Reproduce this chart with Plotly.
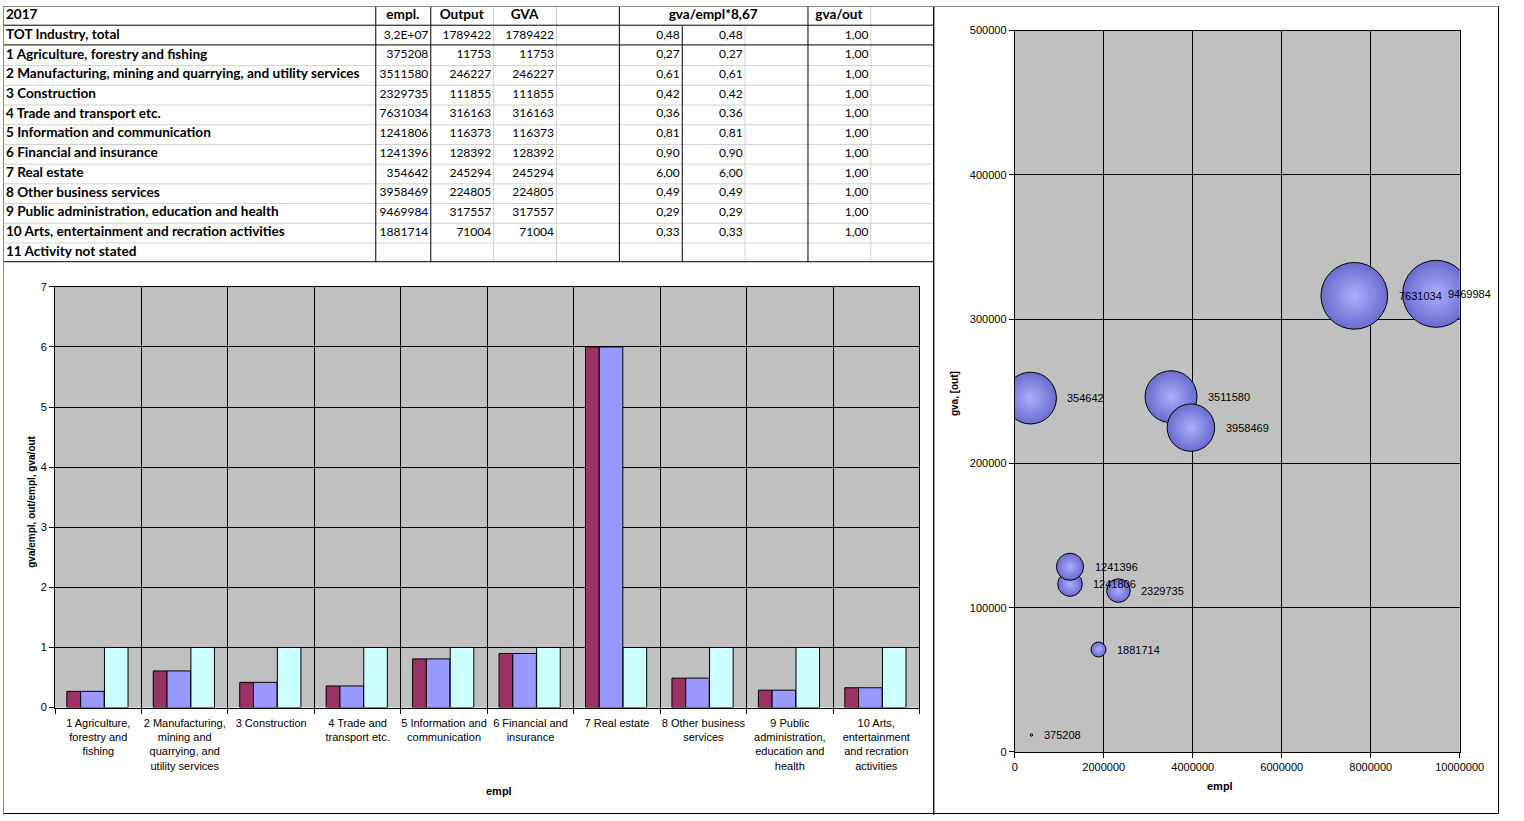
import plotly.graph_objects as go

# Tabelle / Daten 2017
row_names = ["TOT Industry, total",
             "1 Agriculture, forestry and fishing",
             "2 Manufacturing, mining and quarrying, and utility services",
             "3 Construction",
             "4 Trade and transport etc.",
             "5 Information and communication",
             "6 Financial and insurance",
             "7 Real estate",
             "8 Other business services",
             "9 Public administration, education and health",
             "10 Arts, entertainment and recration activities",
             "11 Activity not stated"]

empl = [3.2e7, 375208, 3511580, 2329735, 7631034, 1241806, 1241396, 354642, 3958469, 9469984, 1881714, None]
output = [1789422, 11753, 246227, 111855, 316163, 116373, 128392, 245294, 224805, 317557, 71004, None]
gva = [1789422, 11753, 246227, 111855, 316163, 116373, 128392, 245294, 224805, 317557, 71004, None]
gva_empl = [0.48, 0.27, 0.61, 0.42, 0.36, 0.81, 0.90, 6.00, 0.49, 0.29, 0.33, None]
gva_out = [1.00, 1.00, 1.00, 1.00, 1.00, 1.00, 1.00, 1.00, 1.00, 1.00, 1.00, None]

header = ["2017", "empl.", "Output", "GVA", "gva/empl*8,67", "gva/out"]

# Beschriftungen der Kategorien im Balkendiagramm
bar_labels = ["1 Agriculture,<br>forestry and<br>fishing",
              "2 Manufacturing,<br>mining and<br>quarrying, and<br>utility services",
              "3 Construction",
              "4 Trade and<br>transport etc.",
              "5 Information and<br>communication",
              "6 Financial and<br>insurance",
              "7 Real estate",
              "8 Other business<br>services",
              "9 Public<br>administration,<br>education and<br>health",
              "10 Arts,<br>entertainment<br>and recration<br>activities"]

W, H = 1524, 821
TAB_FONT = "Lato"
CHART_FONT = "Liberation Sans, Arial"


def fx(px):
    return px / W


def fy(py):
    return 1 - py / H


def fmt_int(v):
    if v is None:
        return ""
    s = str(int(round(v)))
    if len(s) > 7:
        s = ("%.1E" % v).replace(".", ",")
    return s


def fmt_dec(v):
    if v is None:
        return ""
    return ("%.2f" % v).replace(".", ",")


fig = go.Figure()

# ---------------- Tabelle (x3/y3, Einheit x = Pixel, y = Zeile) ----------------
n = len(row_names)
fig.add_trace(go.Scatter(x=[3] * (n + 1), y=list(range(n + 1)), text=[header[0]] + row_names,
                         mode="text", textposition="middle right",
                         textfont=dict(family=TAB_FONT, size=13.6, color="black", weight="bold"),
                         xaxis="x3", yaxis="y3", hoverinfo="skip", cliponaxis=False))

# Kopfzeile (zentriert)
head_centers = [407, 467, 531, 723, 851]
fig.add_trace(go.Scatter(x=head_centers, y=[0] * 5, text=header[1:], mode="text",
                         textposition="middle center",
                         textfont=dict(family=TAB_FONT, size=13.6, color="black", weight="bold"),
                         xaxis="x3", yaxis="y3", hoverinfo="skip", cliponaxis=False))

# Zahlenspalten (rechtsbündig)
num_cols = [(433, [fmt_int(v) for v in empl]),
            (497, [fmt_int(v) for v in output]),
            (561, [fmt_int(v) for v in gva]),
            (689, [fmt_dec(v) for v in gva_empl]),
            (753, [fmt_dec(v) for v in gva_empl]),
            (881, [fmt_dec(v) for v in gva_out])]
for right, texts in num_cols:
    fig.add_trace(go.Scatter(x=[right] * n, y=list(range(1, n + 1)), text=texts, mode="text",
                             textposition="middle left",
                             textfont=dict(family=TAB_FONT, size=12, color="black"),
                             xaxis="x3", yaxis="y3", hoverinfo="skip", cliponaxis=False))

# ---------------- Balkendiagramm ----------------
cats = list(range(len(bar_labels)))
bar_styles = [("gva/empl", gva_empl[1:11], "#993366", -0.3636, 0.159),
              ("out/empl", gva_empl[1:11], "#9999FF", -0.2045, 0.2727),
              ("gva/out", gva_out[1:11], "#CCFFFF", 0.0716, 0.2727)]
for name, vals, col, off, wid in bar_styles:
    fig.add_trace(go.Bar(x=cats, y=vals, name=name, offset=off, width=wid,
                         marker=dict(color=col, line=dict(color="black", width=1)),
                         xaxis="x", yaxis="y"))

# ---------------- Blasendiagramm ----------------
bub_x = empl[1:11]
bub_y = gva[1:11]
SIZEREF = 317557 / 67.0
fig.add_trace(go.Scatter(x=bub_x, y=bub_y, mode="markers",
                         marker=dict(size=bub_y, sizemode="diameter", sizeref=SIZEREF,
                                     color="#6B6BCF",
                                     gradient=dict(type="radial", color="#ADADFF"),
                                     line=dict(color="black", width=1), opacity=1),
                         xaxis="x2", yaxis="y2", hoverinfo="skip"))

annotations = []
BX0, BX1 = 1030, 1483
for xv, yv in zip(bub_x, bub_y):
    r = yv / SIZEREF / 2
    cx = BX0 + xv / 1e7 * (BX1 - BX0)
    if cx + r + 9 + 44 > 1520:
        annotations.append(dict(x=fx(1517), xref="paper", y=yv, yref="y2", xanchor="right",
                                text=str(xv), showarrow=False,
                                font=dict(family=CHART_FONT, size=11, color="black")))
    else:
        annotations.append(dict(x=xv, xref="x2", y=yv, yref="y2", xanchor="left", xshift=r + 9,
                                text=str(xv), showarrow=False,
                                font=dict(family=CHART_FONT, size=11, color="black")))

# Achsentitel
title_font = dict(family=CHART_FONT, size=11, color="black", weight="bold")
annotations += [
    dict(x=fx(22), y=fy(503), xref="paper", yref="paper", text="gva/empl, out/empl, gva/out",
         textangle=-90, showarrow=False, font=dict(family=CHART_FONT, size=10, color="black", weight="bold")),
    dict(x=fx(490), y=fy(805), xref="paper", yref="paper", text="empl", showarrow=False, font=title_font),
    dict(x=fx(1254), y=fy(800), xref="paper", yref="paper", text="empl", showarrow=False, font=title_font),
    dict(x=fx(968), y=fy(393), xref="paper", yref="paper", text="gva, [out]", textangle=-90,
         showarrow=False, font=dict(family=CHART_FONT, size=10, color="black", weight="bold")),
]

# ---------------- Linien / Rahmen ----------------
shapes = []


def hline(y, x0, x1, color):
    shapes.append(dict(type="line", xref="paper", yref="paper", x0=fx(x0), x1=fx(x1),
                       y0=fy(y + 0.5), y1=fy(y + 0.5), line=dict(color=color, width=1)))


def vline(x, y0, y1, color):
    shapes.append(dict(type="line", xref="paper", yref="paper", x0=fx(x + 0.5), x1=fx(x + 0.5),
                       y0=fy(y0), y1=fy(y1), line=dict(color=color, width=1)))


LIGHT = "#D0D0D0"
for y in range(60, 260, 20):
    hline(y, 0, 947, LIGHT)
for x in [499, 563, 883]:
    vline(x, 0, 260, LIGHT)
vline(755, 20, 260, LIGHT)
for y in [20, 40, 260]:
    hline(y - 1, 0, 947, "black")
for x in [379, 435, 627, 819]:
    vline(x, 0, 260, "black")
vline(691, 20, 260, "black")

# Hintergrund der Diagrammflächen
for xr, yr in [("x domain", "y domain"), ("x2 domain", "y2 domain")]:
    shapes.append(dict(type="rect", xref=xr, yref=yr, x0=0, x1=1, y0=0, y1=1,
                       fillcolor="#C0C0C0", line=dict(width=0), layer="below"))

# Rahmen
shapes.append(dict(type="rect", xref="paper", yref="paper", x0=fx(947.5), x1=fx(1522.5),
                   y0=fy(819.5), y1=fy(0.5), line=dict(color="black", width=1)))
hline(819, 0, 947, "black")
vline(947, 0, 821, "black")
hline(0, 0, 1524, "#8A8A6E")
vline(0, 0, 821, "#8A8A6E")

axis_font = dict(family=CHART_FONT, size=11, color="black")
fig.update_layout(
    width=W, height=H, margin=dict(l=0, r=0, t=0, b=0),
    paper_bgcolor="white", plot_bgcolor="white", showlegend=False,
    barmode="overlay",
    xaxis=dict(domain=[fx(53), fx(933)], range=[-0.5, 9.5], tickmode="array", tickvals=cats,
               ticktext=bar_labels, ticks="outside", ticklen=5, tickcolor="rgba(0,0,0,0)",
               showgrid=False, zeroline=False, showline=True, linecolor="black", mirror=True,
               tickfont=axis_font, anchor="y", fixedrange=True,
               minor=dict(tickmode="array", tickvals=[c - 0.5 for c in cats] + [cats[-1] + 0.5],
                          ticks="outside", ticklen=5, tickcolor="black",
                          showgrid=True, gridcolor="black", gridwidth=1)),
    yaxis=dict(domain=[fy(712), fy(285)], range=[0, 7], dtick=1, ticks="outside", ticklen=5,
               tickcolor="black", showgrid=True, gridcolor="black", zeroline=False,
               showline=True, linecolor="black", mirror=True, tickfont=axis_font,
               anchor="x", fixedrange=True),
    xaxis2=dict(domain=[fx(BX0), fx(BX1)], range=[0, 1e7], dtick=2e6, tickformat="d",
                ticks="outside", ticklen=5, tickcolor="black", showgrid=True, gridcolor="black",
                zeroline=False, showline=True, linecolor="black", mirror=True,
                tickfont=axis_font, anchor="y2", fixedrange=True),
    yaxis2=dict(domain=[fy(757), fy(25)], range=[0, 500000], dtick=100000, tickformat="d",
                ticks="outside", ticklen=5, tickcolor="black", showgrid=True, gridcolor="black",
                zeroline=False, showline=True, linecolor="black", mirror=True,
                tickfont=axis_font, anchor="x2", fixedrange=True),
    xaxis3=dict(domain=[0, fx(947)], range=[0, 947], visible=False, anchor="y3", fixedrange=True),
    yaxis3=dict(domain=[fy(260), 1], range=[12.5, -0.5], visible=False, anchor="x3", fixedrange=True),
    shapes=shapes,
    annotations=annotations,
)

# Seitenrand entfernen, damit 1524x821 genau ins Fenster passt
page_js = ("document.documentElement.style.margin='0';document.documentElement.style.overflow='hidden';"
           "document.body.style.margin='0';document.body.style.padding='0';"
           "document.body.style.overflow='hidden';")
fig.write_html("out.html", config={"displayModeBar": False}, post_script=page_js)
